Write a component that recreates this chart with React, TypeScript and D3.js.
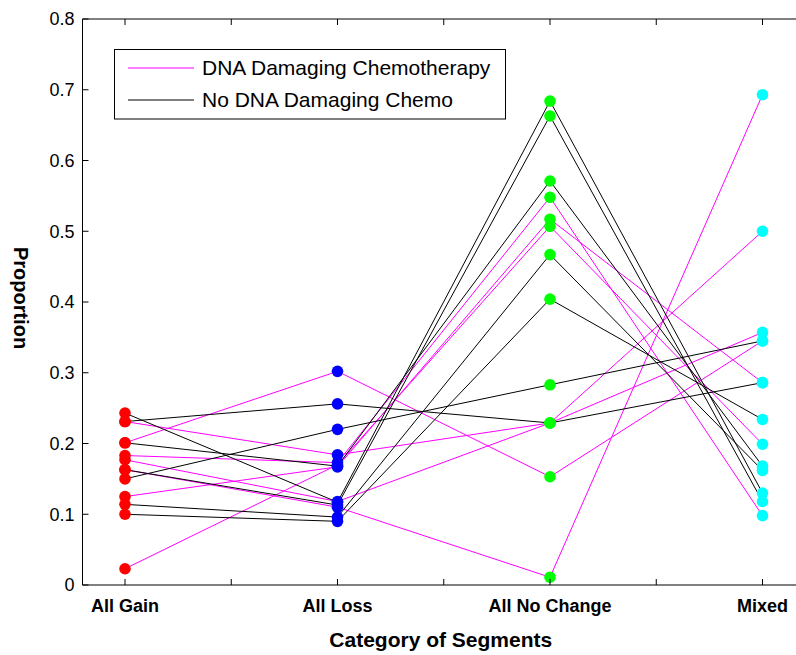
import React from "react";
import * as d3 from "d3";

// Categories along the x axis
const categories = ["All Gain", "All Loss", "All No Change", "Mixed"];
const categoryColors = ["#ff0000", "#0000ff", "#00ff00", "#00ffff"];

// Proportion per category for each sample (gain, loss, no change, mixed)
const dnaDamaging: number[][] = [
  [0.231, 0.184, 0.229, 0.357],
  [0.201, 0.302, 0.153, 0.345],
  [0.183, 0.173, 0.548, 0.098],
  [0.177, 0.118, 0.229, 0.5],
  [0.163, 0.11, 0.011, 0.693],
  [0.125, 0.167, 0.517, 0.286],
  [0.023, 0.17, 0.507, 0.199],
];

const noDnaDamaging: number[][] = [
  [0.243, 0.117, 0.684, 0.13],
  [0.231, 0.256, 0.229, 0.286],
  [0.201, 0.168, 0.571, 0.168],
  [0.163, 0.113, 0.663, 0.118],
  [0.15, 0.22, 0.283, 0.345],
  [0.114, 0.096, 0.467, 0.162],
  [0.1, 0.09, 0.404, 0.234],
];

const yTicks = [0, 0.1, 0.2, 0.3, 0.4, 0.5, 0.6, 0.7, 0.8];
const xTicks = [1, 1.5, 2, 2.5, 3, 3.5, 4];
const legendLabels = ["DNA Damaging Chemotherapy", "No DNA Damaging Chemo"];

const W = 796;
const H = 655;
const left = 82.5;
const top = 19;
const bottom = 585;
const font = "'Liberation Sans', Arial, Helvetica, sans-serif";

export default function App() {
  const x = d3.scaleLinear().domain([0.8, 4.2]).range([left, left + 3.4 * 212.5]);
  const y = d3.scaleLinear().domain([0, 0.8]).range([bottom, top]);
  const right = x(4.2);

  const line = d3
    .line<number>()
    .x((_, i) => x(i + 1))
    .y((v) => y(v));

  const allSeries = [
    ...dnaDamaging.map((s) => ({ s, color: "#ff00ff" })),
    ...noDnaDamaging.map((s) => ({ s, color: "#000000" })),
  ];

  const tickLen = 6;

  return (
    <svg
      width={W}
      height={H}
      style={{ position: "absolute", left: 0, top: 0, background: "#fff" }}
      fontFamily={font}
    >
      <rect x={0} y={0} width={W} height={H} fill="#fff" />

      {/* series lines */}
      {allSeries.map((d, i) => (
        <path key={"l" + i} d={line(d.s) || ""} fill="none" stroke={d.color} strokeWidth={1} />
      ))}

      {/* category markers */}
      {allSeries.map((d, i) =>
        d.s.map((v, j) => (
          <circle key={`m${i}-${j}`} cx={x(j + 1)} cy={y(v)} r={5.8} fill={categoryColors[j]} />
        ))
      )}

      {/* axes box */}
      <path
        d={`M${right},${top}H${left}V${bottom}H${right}V${top}`}
        fill="none"
        stroke="#000"
        strokeWidth={1}
      />

      {/* y ticks */}
      {yTicks.map((t) => (
        <g key={"y" + t}>
          <line x1={left} x2={left + tickLen} y1={y(t)} y2={y(t)} stroke="#000" />
          <line x1={right} x2={right - tickLen} y1={y(t)} y2={y(t)} stroke="#000" />
          <text x={left - 8} y={y(t)} dy="0.35em" textAnchor="end" fontSize={18} fill="#000">
            {t === 0 ? "0" : t.toFixed(1)}
          </text>
        </g>
      ))}

      {/* x ticks */}
      {xTicks.map((t) => (
        <g key={"x" + t}>
          <line x1={x(t)} x2={x(t)} y1={bottom} y2={bottom - tickLen} stroke="#000" />
          <line x1={x(t)} x2={x(t)} y1={top} y2={top + tickLen} stroke="#000" />
        </g>
      ))}
      {categories.map((c, i) => (
        <text
          key={c}
          x={x(i + 1)}
          y={612}
          textAnchor="middle"
          fontSize={18}
          fontWeight="bold"
          fill="#000"
        >
          {c}
        </text>
      ))}

      {/* axis titles */}
      <text
        x={(left + right) / 2 - 3}
        y={647}
        textAnchor="middle"
        fontSize={21}
        fontWeight="bold"
        fill="#000"
      >
        Category of Segments
      </text>
      <text
        transform={`translate(14,${(top + bottom) / 2 - 4}) rotate(90)`}
        textAnchor="middle"
        fontSize={20}
        fontWeight="bold"
        fill="#000"
      >
        Proportion
      </text>

      {/* legend */}
      <rect x={114.5} y={49.5} width={391} height={69.5} fill="#fff" stroke="#000" strokeWidth={1} />
      {legendLabels.map((lab, i) => {
        const ly = 68 + i * 32;
        return (
          <g key={lab}>
            <line
              x1={128}
              x2={194}
              y1={ly}
              y2={ly}
              stroke={i === 0 ? "#ff00ff" : "#000"}
              strokeWidth={1}
            />
            <text x={202} y={ly} dy="0.35em" fontSize={21} fill="#000">
              {lab}
            </text>
          </g>
        );
      })}
    </svg>
  );
}
